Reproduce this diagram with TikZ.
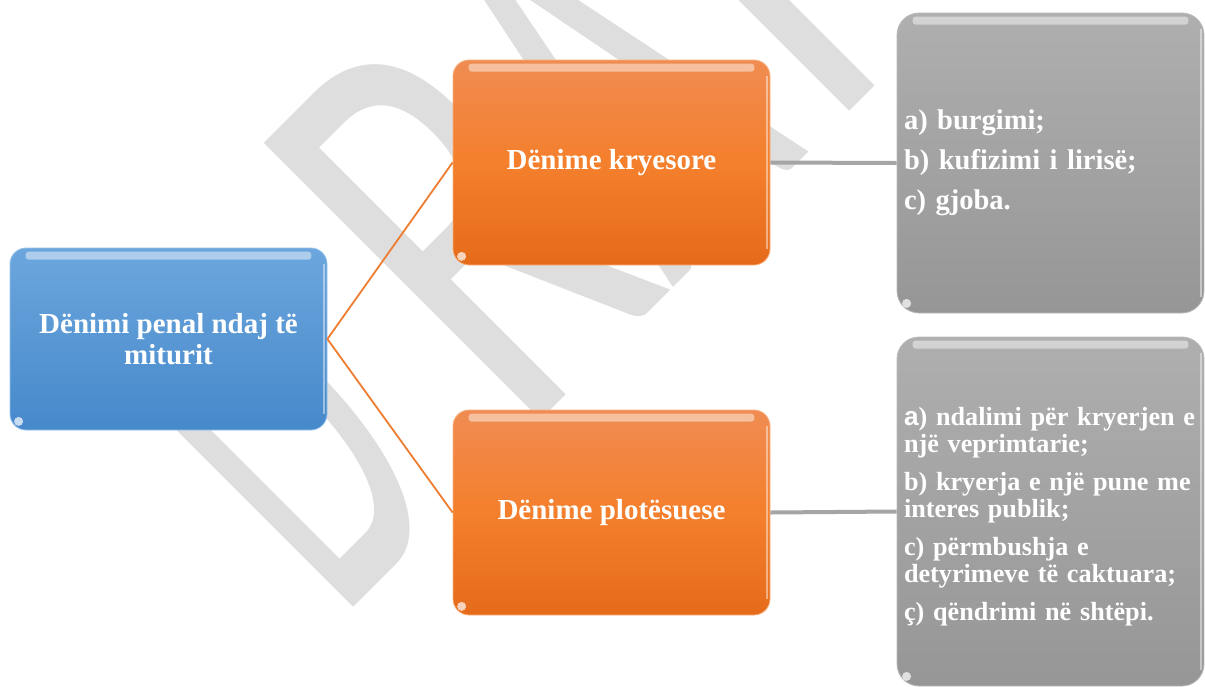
\documentclass[tikz,border=0pt]{standalone}
\usepackage{fontspec}
\setmainfont{Liberation Serif}
\newfontfamily\wmfont{Carlito}
\newfontfamily\sansfam{Liberation Sans}
\definecolor{blueT}{RGB}{108,166,221}
\definecolor{blueB}{RGB}{70,137,203}
\definecolor{blueE}{RGB}{150,195,235}
\definecolor{orT}{RGB}{240,140,82}
\definecolor{orM}{RGB}{244,127,44}
\definecolor{orB}{RGB}{229,107,26}
\definecolor{orE}{RGB}{249,178,126}
\definecolor{grT}{RGB}{175,175,175}
\definecolor{grB}{RGB}{150,150,150}
\definecolor{grE}{RGB}{185,185,185}
\definecolor{orLine}{RGB}{237,125,49}
\definecolor{grLine}{RGB}{165,165,165}
\definecolor{wmgray}{RGB}{222,222,222}
\newcommand\boxgloss[2]{%
  \fill[white, opacity=.45, rounded corners=3pt] ([xshift=16pt,yshift=-4pt]#1.north west) rectangle ([xshift=-16pt,yshift=-12pt]#1.north east);
  \draw[white, opacity=.45, line width=1.5pt] ([xshift=-3.5pt,yshift=-16pt]#1.north east) -- ([xshift=-3.5pt,yshift=16pt]#1.south east);
  \fill[white, opacity=.7] ([xshift=#2,yshift=#2]#1.south west) circle (4.5pt);
}
\begin{document}
\begin{tikzpicture}[x=1pt,y=-1pt,
  wm/.style={text=wmgray, font=\fontsize{610}{610}\selectfont\wmfont, rotate=45, anchor=base west, inner sep=0pt},
  basebox/.style={rectangle, inner sep=0pt, text=white, font=\bfseries},
  bluebox/.style={basebox, rounded corners=16pt, top color=blueT, bottom color=blueB, draw=blueE, line width=0.8pt,
    minimum width=317pt, minimum height=182pt, align=center, font=\fontsize{29}{30.5}\selectfont\bfseries},
  orangebox/.style={basebox, rounded corners=16pt, top color=orT, bottom color=orB, middle color=orM, draw=orE, line width=0.8pt,
    minimum width=317pt, minimum height=205pt, align=center, font=\fontsize{29}{30}\selectfont\bfseries},
  graybox/.style={basebox, rounded corners=22pt, top color=grT, bottom color=grB, draw=grE, line width=0.8pt,
    minimum width=307pt, text width=293pt, inner xsep=7pt, align=left},
  orconn/.style={draw=orLine, line width=1.8pt},
  grconn/.style={draw=grLine, line width=4pt}
]
\useasboundingbox (0,0) rectangle (1205,686);
\fill[white] (0,0) rectangle (1205,686);
\begin{scope}
\clip (0,0) rectangle (1205,686);
\node[wm] (wmD) at (340.4,620.6) {\scalebox{0.45}[1]{D}};
\node[wm] (wmR) at (520.7,440.3) {\scalebox{0.66}[1]{R}};
\node[wm] (wmA) at (672,289) {\scalebox{0.55}[1]{A}};
\node[wm] (wmF) at (830.7,130.3) {\scalebox{0.66}[1]{F}};
\end{scope}

\node[bluebox] (root) at (168.5,339) {Dënimi penal ndaj të\\miturit};
\node[orangebox] (main) at (611.5,162.5) {Dënime kryesore};
\node[orangebox] (supp) at (611.5,512.5) {Dënime plotësuese};

\node[graybox, minimum height=300pt, font=\fontsize{28.5}{29}\selectfont\bfseries] (gtop) at (1050.5,163)
  {a) burgimi;\\[11pt]b) kufizimi i lirisë;\\[11pt]c) gjoba.};
\node[graybox, minimum height=349pt, font=\fontsize{26.2}{27}\selectfont\bfseries] (gbot) at (1050.5,511.5)
  {\mbox{}\\[1pt]\mbox{{\sansfam\bfseries a}) ndalimi për kryerjen e}\\\mbox{një veprimtarie;}\\[11pt]\mbox{b) kryerja e një pune me}\\\mbox{interes publik;}\\[11pt]\mbox{c) përmbushja e}\\\mbox{detyrimeve të caktuara;}\\[11pt]\mbox{ç) qëndrimi në shtëpi.}};

\draw[orconn] (root.east) -- (main.west);
\draw[orconn] (root.east) -- (supp.west);
\draw[grconn] (main.east) -- (gtop.west);
\draw[grconn] (supp.east) -- (gbot.west);

\boxgloss{root}{9pt}
\boxgloss{main}{9pt}
\boxgloss{supp}{9pt}
\boxgloss{gtop}{10pt}
\boxgloss{gbot}{10pt}
\end{tikzpicture}
\end{document}
